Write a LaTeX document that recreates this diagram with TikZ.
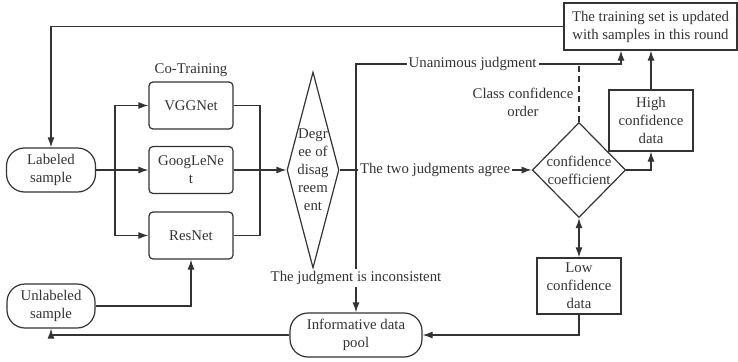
\documentclass[tikz,border=0pt]{standalone}
\usepackage{fontspec}
\setmainfont{Liberation Serif}
\usepackage{tikz}
\usetikzlibrary{shapes,arrows.meta,positioning}

\begin{document}
\begin{tikzpicture}[
    x=1pt, y=-1pt, color=black!80, line width=1.2pt,
    every node/.style={font=\fontsize{14.8}{18}\selectfont},
    box/.style={rectangle, draw, minimum width=84pt, inner sep=2pt, align=center},
    net/.style={rectangle, draw, rounded corners=4pt, minimum width=84pt, minimum height=47pt, align=center},
    term/.style={rectangle, draw, rounded corners=18pt, minimum height=44pt, inner sep=2pt, align=center},
    dia/.style={diamond, draw, inner sep=0pt, align=center},
    lbl/.style={fill=white, inner sep=2pt, align=center},
    arrow/.style={->, >={Latex[length=10pt,width=7pt]}}
]
\useasboundingbox (0,0) rectangle (738,361);

% Inputs
\node[term, minimum width=89pt] (lab) at (51,170) {Labeled\\sample};
\node[term, minimum width=88pt] (unlab) at (51,306) {Unlabeled\\sample};

% Co-training networks
\node (cotrain) at (191,70) {Co-Training};
\node[net] (vgg) at (191,105.5) {VGGNet};
\node[net] (goog) at (191,170) {GoogLeNe\\t};
\node[net] (res) at (191,235.5) {ResNet};

% Decisions
\node[dia, minimum width=52pt, minimum height=196pt,
      label={[align=center]center:Degr\\ee of\\disag\\reem\\ent}] (dis) at (313,170) {};
\node[dia, minimum width=83pt, minimum height=95pt] (conf) at (579,170) {confidence\\coefficient};

% Results
\node[box, minimum width=173pt, minimum height=47pt] (update) at (650.5,26.5) {The training set is updated\\with samples in this round};
\node[box, minimum height=61pt] (high) at (651,120.5) {High\\confidence\\data};
\node[box, minimum height=56pt] (low) at (579,286) {Low\\confidence\\data};
\node[term, minimum width=132pt] (pool) at (356,335) {Informative data\\pool};

% Helper points
\coordinate (split) at (115,170);
\coordinate (merge) at (260,170);
\coordinate (jn) at (356,170);
\coordinate (unanc) at (621,64);
\node[align=center] (ccord) at (523,102) {Class confidence\\order};

% Arrows
\draw[arrow] (update.west) -| (lab.north);
\draw[arrow] (lab) -- (goog);
\draw[arrow] (split) |- (vgg);
\draw[arrow] (split) |- (res);
\draw (vgg.east) -| (merge) |- (res.east);
\draw[arrow] (goog) -- (dis);
\draw (dis.east) -- (jn);
\draw[arrow] (jn) |- node[lbl, pos=0.72] (unan) {Unanimous judgment} (unanc) -- (unanc |- update.south);
\draw[arrow] (jn) -- node[lbl, pos=0.45] (agree) {The two judgments agree} (conf.west);
\draw[arrow] (jn) -- node[lbl, pos=0.76] (incons) {The judgment is inconsistent} (pool.north);
\draw[dash pattern=on 6pt off 4pt] (conf.north) -- (conf.north |- unanc);
\draw[arrow] (conf.east) -| (high.south);
\draw[arrow] (high.north) -- (high.north |- update.south);
\draw[arrow, <->] (conf.south) -- (low.north);
\draw[arrow] (low.south) |- (pool.east);
\draw[arrow] (pool.west) -| (unlab.south);
\draw[arrow] (unlab.east) -| (res.south);

\end{tikzpicture}
\end{document}
